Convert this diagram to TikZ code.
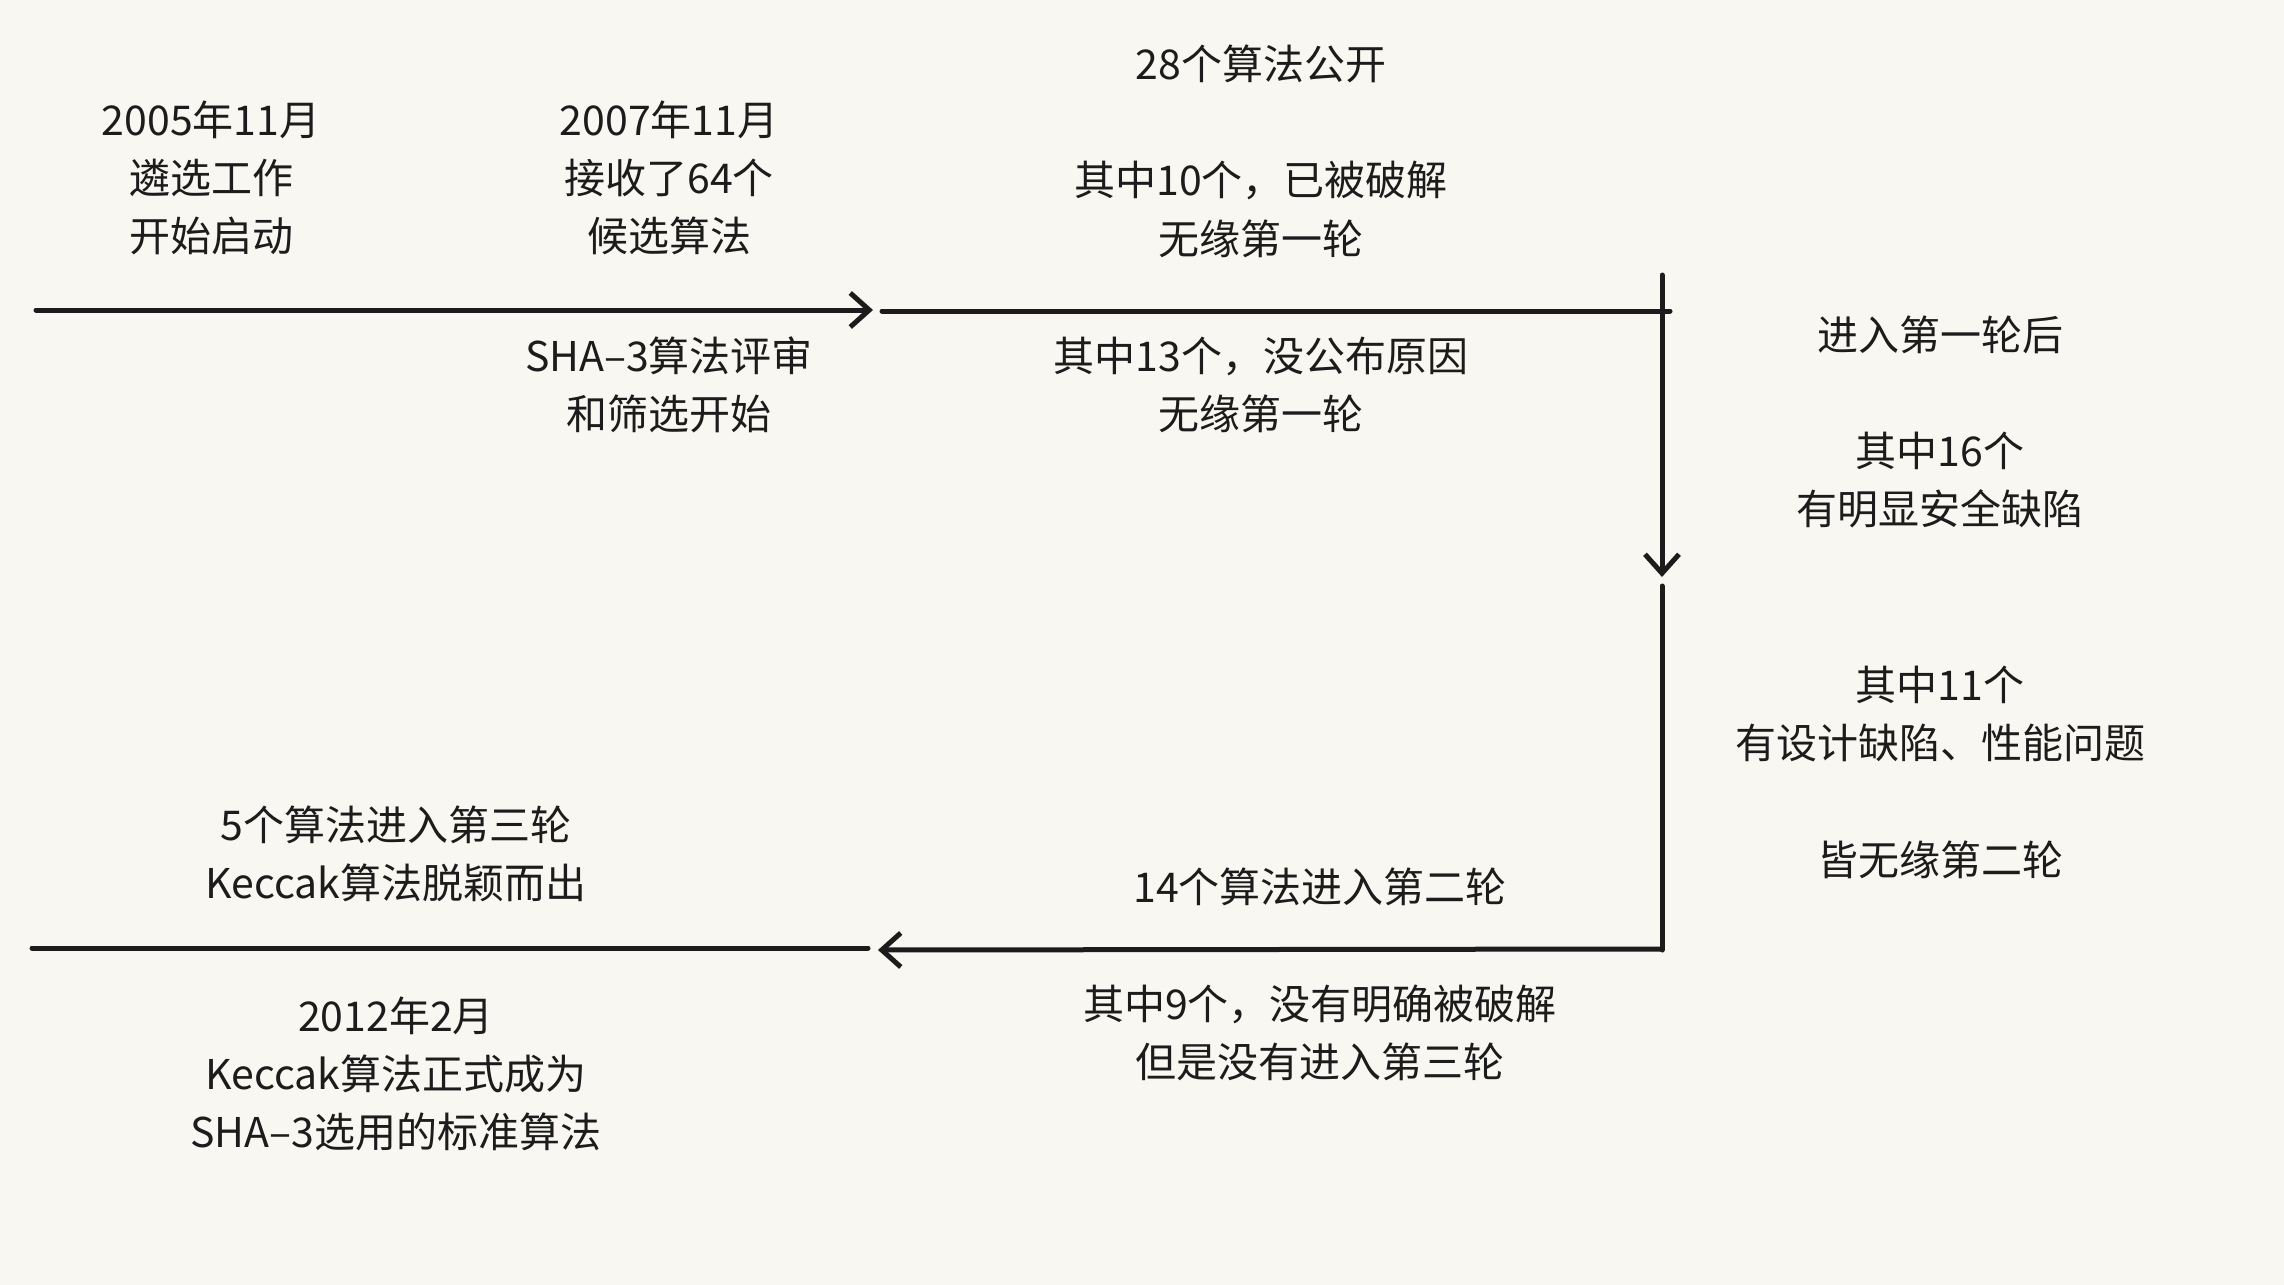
\documentclass[tikz,border=0pt]{standalone}
\usepackage{fontspec}
\setmainfont{Noto Sans CJK SC}
\usetikzlibrary{arrows.meta}
\definecolor{bgpaper}{HTML}{F8F7F1}
\definecolor{ink}{HTML}{1C1C1C}
\tikzset{
  lbl/.style={align=center, inner sep=0pt, text=ink, font=\fontsize{41}{58.3}\selectfont},
  pen/.style={draw=ink, line width=5pt, line cap=round},
  penarrow/.style={pen, -{Straight Barb[length=19pt,width=34pt,line width=5pt]}},
}
\begin{document}
\begin{tikzpicture}[x=1pt,y=-1pt]
\fill[bgpaper] (0,0) rectangle (2284,1285);
\useasboundingbox (0,0) rectangle (2284,1285);

% coordinates of the path
\coordinate (a0) at (36,310);
\coordinate (a1) at (873,310);
\coordinate (b0) at (882,311);
\coordinate (b1) at (1670,311);
\coordinate (v0) at (1662,275);
\coordinate (v1) at (1662,577);
\coordinate (v2) at (1662,586);
\coordinate (v3) at (1662,950);
\coordinate (c0) at (1662,949);
\coordinate (c1) at (878,950);
\coordinate (d0) at (868,948);
\coordinate (d1) at (32,948);

\draw[penarrow] (a0) -- (a1);
\draw[pen] (b0) -- (b1);
\draw[penarrow] (v0) -- (v1);
\draw[pen] (v2) -- (v3);
\draw[penarrow] (c0) -- (c1);
\draw[pen] (d0) -- (d1);

% labels
\node[lbl] (t1) at (211,178) {2005年11月\\遴选工作\\开始启动};
\node[lbl] (t2) at (669,178) {2007年11月\\接收了64个\\候选算法};
\node[lbl] (t3) at (669,385) {SHA–3算法评审\\和筛选开始};
\node[lbl] (t4) at (1261,151) {28个算法公开\\[58.3pt]其中10个，已被破解\\无缘第一轮};
\node[lbl] (t5) at (1261,385) {其中13个，没公布原因\\无缘第一轮};
\node[lbl] (t6) at (1940,422) {进入第一轮后\\[58.3pt]其中16个\\有明显安全缺陷};
\node[lbl] (t7) at (1940,772) {其中11个\\有设计缺陷、性能问题\\[58.3pt]皆无缘第二轮};
\node[lbl] (t8) at (1320,887) {14个算法进入第二轮};
\node[lbl] (t9) at (1320,1033) {其中9个，没有明确被破解\\但是没有进入第三轮};
\node[lbl] (t10) at (396,854) {5个算法进入第三轮\\Keccak算法脱颖而出};
\node[lbl] (t11) at (396,1074) {2012年2月\\Keccak算法正式成为\\SHA–3选用的标准算法};
\end{tikzpicture}
\end{document}
